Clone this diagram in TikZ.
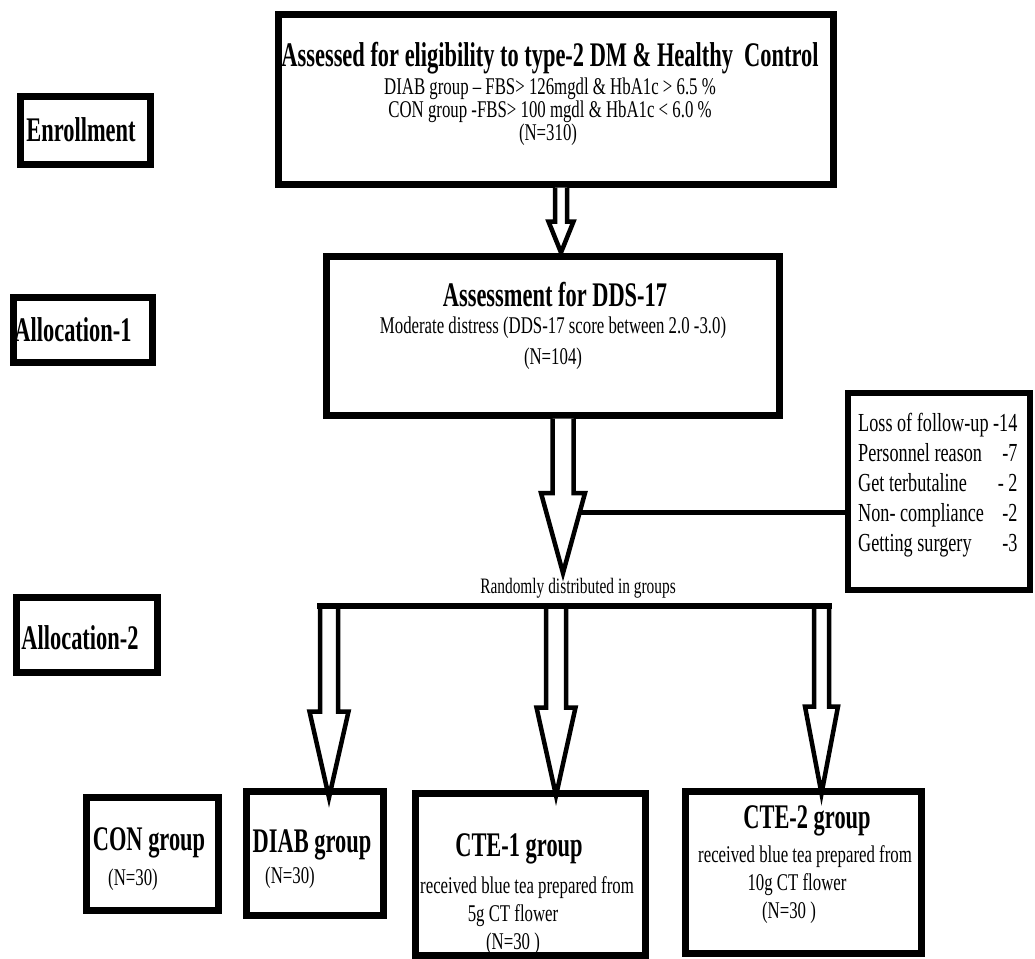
\documentclass[tikz,border=0pt]{standalone}
\usepackage{fontspec}
\setmainfont{Liberation Serif}[FakeStretch=0.7, BoldFeatures={FakeStretch=0.65}]
\usetikzlibrary{calc}
\tikzset{
  box/.style={draw, line width=#1, inner sep=0pt, fill=white},
  box/.default=7pt,
  bt/.style={font=\fontsize{34.5}{38}\selectfont\bfseries, inner sep=0pt},
  st/.style={font=\fontsize{24}{28}\selectfont, inner sep=0pt},
  lt/.style={font=\fontsize{26}{30}\selectfont, inner sep=0pt},
  rt/.style={font=\fontsize{22}{26}\selectfont, inner sep=0pt},
  barrow/.style={draw, line width=4.5pt, line join=miter, fill=white},
  bline/.style={line width=6pt},
}
\newcommand\blockarrow[7]{%
  \draw[barrow] let \p1=(#2), \p2=(#3) in
    ({#1pt-#5pt},\y1) -- ({#1pt-#5pt},{\y2-#4pt+#7pt}) -- ({#1pt-#6pt},{\y2-#4pt+#7pt})
    -- (#1pt,{\y2-#4pt}) -- ({#1pt+#6pt},{\y2-#4pt+#7pt}) -- ({#1pt+#5pt},{\y2-#4pt+#7pt})
    -- ({#1pt+#5pt},\y1);}
\begin{document}
\begin{tikzpicture}[x=1pt,y=-1pt]
\fill[white] (0,0) rectangle (1035,958);
\useasboundingbox (0,0) rectangle (1035,958);

% boxes
\node[box, minimum width=555pt, minimum height=169pt] (top) at (555.5,99.5) {};
\node[box, minimum width=130pt, minimum height=68pt] (enr) at (85,130) {};
\node[box, minimum width=139pt, minimum height=65pt] (al1) at (82.5,329.5) {};
\node[box, minimum width=141pt, minimum height=75pt] (al2) at (86.5,634.5) {};
\node[box, minimum width=453pt, minimum height=159pt] (dds) at (552.5,335.5) {};
\node[box=6pt, minimum width=182pt, minimum height=197pt] (loss) at (939,491.5) {};
\node[box, minimum width=132pt, minimum height=113pt] (con) at (152,853.5) {};
\node[box, minimum width=137pt, minimum height=124pt] (diab) at (314.5,853) {};
\node[box, minimum width=230pt, minimum height=162pt] (cte1) at (530,874) {};
\node[box, minimum width=236pt, minimum height=162pt] (cte2) at (803,872) {};

% texts
\node[bt] (t1) at (550,58) {Assessed for eligibility to type-2 DM \& Healthy\ \ Control};
\node[st] (t2) at (550,89) {DIAB group -- FBS> 126mgdl \& HbA1c > 6.5 \%};
\node[st] (t3) at (550,112) {CON group -FBS> 100 mgdl \& HbA1c < 6.0 \%};
\node[st] (t4) at (548,135) {(N=310)};

\node[bt] (tenr) at (81,130) {Enrollment};
\node[bt] (tal1) at (73,330) {Allocation-1};
\node[bt] (tal2) at (80,638) {Allocation-2};

\node[bt] (d1) at (555,295) {Assessment for DDS-17};
\node[st] (d2) at (553,328) {Moderate distress (DDS-17 score between 2.0 -3.0)};
\node[st] (d3) at (553,359) {(N=104)};

\node[lt, anchor=north west] (ltxt) at (858,410) {%
  \begin{tabular}{@{}l@{\ }r@{}}
  Loss of follow-up & -14\\
  Personnel reason & -7\\
  Get terbutaline & - 2\\
  Non- compliance & -2\\
  Getting surgery & -3
  \end{tabular}};

\node[rt] (rand) at (578,588) {Randomly distributed in groups};

\node[bt] (c1) at (149,843) {CON group};
\node[st] (c2) at (133,880) {(N=30)};
\node[bt] (g1) at (312,845) {DIAB group};
\node[st] (g2) at (290,878) {(N=30)};
\node[bt] (e1) at (519,849) {CTE-1 group};
\node[st] (e2) at (527,888) {received blue tea prepared from};
\node[st] (e3) at (513,916) {5g CT flower};
\node[st] (e4) at (513,944) {(N=30 )};
\node[bt] (f1) at (807,821) {CTE-2 group};
\node[st] (f2) at (805,857) {received blue tea prepared from};
\node[st] (f3) at (797,885) {10g CT flower};
\node[st] (f4) at (789,913) {(N=30 )};

% connectors
\coordinate (rtip) at (563,573);
\coordinate (a2r) at (578,512);
\coordinate (barL) at (317,606);
\coordinate (barR) at (832,606);

\blockarrow{561}{top.south}{dds.north}{0}{6}{12.5}{31}
\draw[line width=5pt] (a2r) -- (a2r -| loss.west);
\blockarrow{563}{dds.south}{rtip}{0}{10.5}{22}{80}

\blockarrow{329}{barL}{diab.north}{10}{9}{19.5}{86}
\blockarrow{556}{barL}{cte1.north}{6}{10}{19.5}{88}
\blockarrow{821.5}{barL}{cte2.north}{6}{7.5}{16.5}{87}
\draw[bline] (barL) -- (barR);
\end{tikzpicture}
\end{document}
